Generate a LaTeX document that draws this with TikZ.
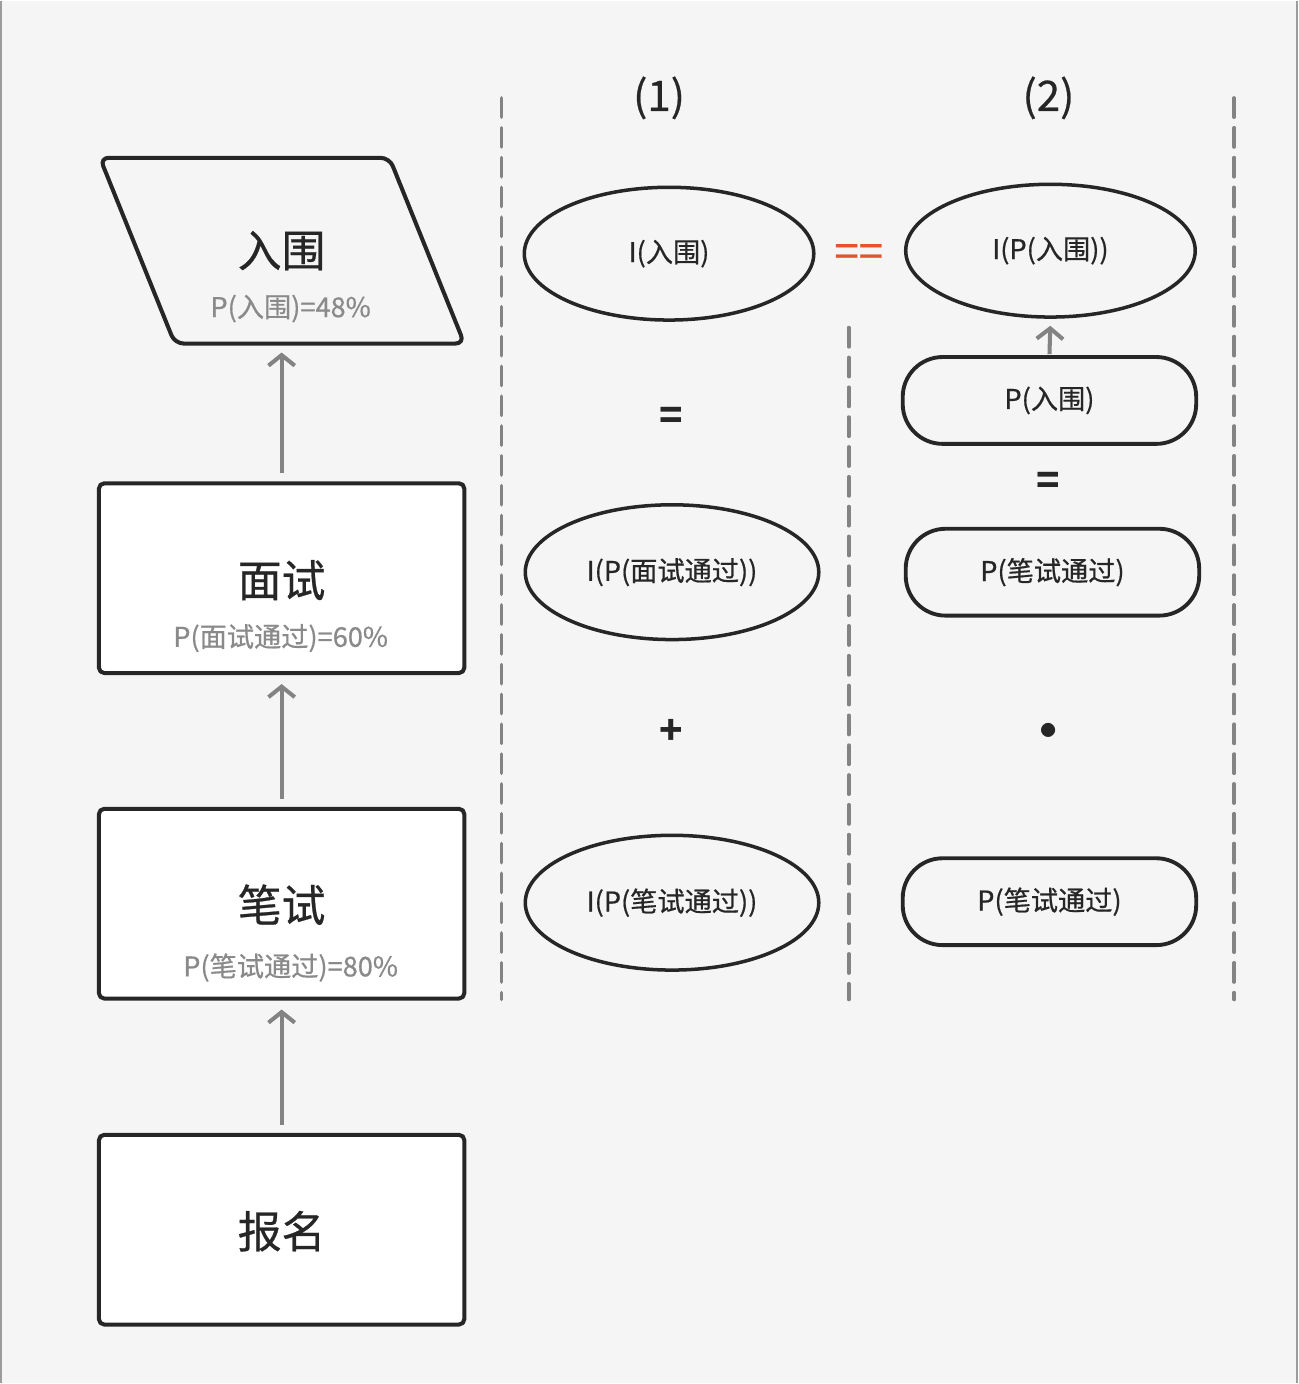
\documentclass[tikz,border=0pt]{standalone}
\usepackage{fontspec}
\setmainfont{Noto Sans CJK SC}
\newfontfamily\medfont[FakeBold=0.6]{Noto Sans CJK SC}
\usetikzlibrary{shapes.geometric,arrows.meta}
\definecolor{bgcol}{HTML}{F5F5F5}
\definecolor{linegray}{HTML}{838383}
\definecolor{txtdark}{HTML}{262626}
\definecolor{txtgray}{HTML}{8A8A8A}
\definecolor{eqred}{HTML}{E5532D}
\begin{document}
\begin{tikzpicture}[x=0.02cm, y=-0.02cm, >={Straight Barb[length=6pt,width=15pt]}, line join=round,
	stepbox/.style={draw=txtdark, line width=2.3pt, fill=white, rounded corners=3pt, minimum width=7.32cm, minimum height=3.8cm, inner sep=0},
	mainlbl/.style={text=txtdark, font=\medfont\fontsize{25}{28}\selectfont, inner sep=0},
	sublbl/.style={text=txtgray, font=\medfont\fontsize{15.5}{17}\selectfont, inner sep=0},
	oval/.style={ellipse, draw=txtdark, line width=2pt, minimum width=5.8cm, minimum height=2.66cm, inner sep=0, font=\medfont\fontsize{15.5}{17}\selectfont, text=txtdark},
	pill/.style={draw=txtdark, line width=2.2pt, rounded corners=0.8cm, minimum width=5.88cm, minimum height=1.74cm, inner sep=0, font=\medfont\fontsize{15.5}{17}\selectfont, text=txtdark},
	op/.style={text=txtdark, font=\fontsize{22}{24}\selectfont\bfseries, inner sep=0},
	arr/.style={->, draw=linegray, line width=2.3pt, shorten <=0.16cm, shorten >=0.18cm},
	sep/.style={draw=linegray, line width=2pt, dash pattern=on 11pt off 6pt, line cap=round}
	]
	% background and frame edges
	\fill[bgcol] (0,0) rectangle (1300,1384);
	\draw[linegray!80, line width=1.2pt] (1,0) -- (1,1384);
	\draw[linegray!80, line width=1.2pt] (1299,0) -- (1299,1384);
	
	% left column: flow
	\draw[draw=txtdark, line width=2.3pt, rounded corners=5pt, fill=bgcol] (100,157) -- (390,157) -- (465,343) -- (175,343) -- cycle;
	\coordinate (ruweib) at (282,343);
	\node[mainlbl] (ruwei) at (282,250) {入围};
	\node[sublbl] (ruweip) at (291,308) {P(入围)=48\%};
	
	\node[stepbox] (mianshi) at (282,578) {};
	\node[mainlbl] (mianshit) at (282,580) {面试};
	\node[sublbl] (mianship) at (281,638) {P(面试通过)=60\%};
	
	\node[stepbox] (bishi) at (282,904) {};
	\node[mainlbl] (bishit) at (282,905) {笔试};
	\node[sublbl] (biship) at (291,968) {P(笔试通过)=80\%};
	
	\node[stepbox] (baoming) at (282,1230.5) {};
	\node[mainlbl] (baomingt) at (282,1232) {报名};
	
	\draw[arr] (mianshi.north) -- (ruweib);
	\draw[arr] (bishi.north) -- (mianshi.south);
	\draw[arr] (baoming.north) -- (bishi.south);
	
	% dashed separators
	\draw[sep] (502,97) -- (502,1000);
	\draw[sep] (850,327) -- (850,1000);
	\draw[sep] (1236,97) -- (1236,1000);
	
	% column (1)
	\node[mainlbl, font=\medfont\fontsize{24}{26}\selectfont] (colA) at (660,97) {(1)};
	\node[oval] (iruwei) at (670,253) {I(入围)};
	\node[op] (eqA) at (672,418) {=};
	\node[oval, minimum width=5.88cm, minimum height=2.7cm] (imianshi) at (673,572) {I(P(面试通过))};
	\node[op] (plusA) at (672,732) {+};
	\node[oval, minimum width=5.88cm, minimum height=2.7cm] (ibishi) at (673,903) {I(P(笔试通过))};
	
	\node[op, text=eqred, font=\medfont\fontsize{25}{27}\selectfont] (eqeq) at (860,255) {==};
	
	% column (2)
	\node[mainlbl, font=\medfont\fontsize{24}{26}\selectfont] (colB) at (1050,97) {(2)};
	\node[oval] (ipruwei) at (1052,250) {I(P(入围))};
	\node[pill] (pruwei) at (1051,400) {P(入围)};
	\draw[arr, shorten <=0.02cm, shorten >=0.14cm] (pruwei.north) -- (ipruwei.south);
	\node[op] (eqB) at (1050,483) {=};
	\node[pill] (pbishiA) at (1054,572) {P(笔试通过)};
	\node[op] (dotB) at (1050,731) {$\bullet$};
	\node[pill] (pbishiB) at (1051,902) {P(笔试通过)};
\end{tikzpicture}
\end{document}
